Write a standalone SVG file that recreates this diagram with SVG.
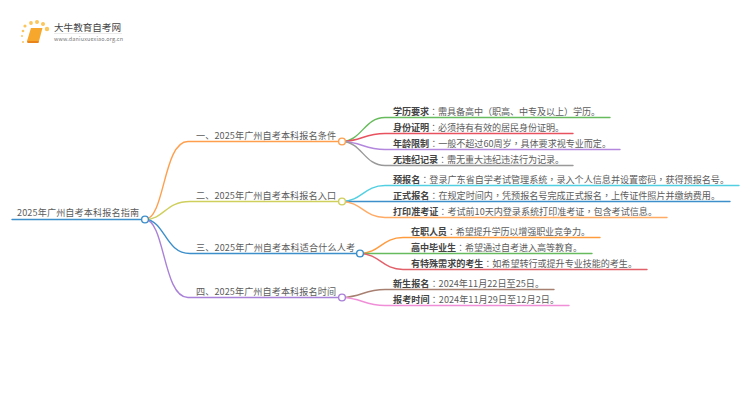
<svg xmlns="http://www.w3.org/2000/svg" width="750" height="410" viewBox="0 0 750 410">
<style>
text{font-family:"Noto Sans CJK SC","Liberation Sans",sans-serif;fill:#5c5c5c;font-size:9.1px}
.k{font-weight:700;fill:#444}
.p{font-family:"Noto Sans CJK TC","Liberation Sans",sans-serif}
.c{fill:none;stroke-width:1.4;stroke-linecap:round}
.d{fill:#fff;stroke-width:1.4}
</style>
<rect width="750" height="410" fill="#fff"/>
<g id="logo">
<g fill="#fbc65c"><circle cx="23" cy="31" r="1.3"/><circle cx="22" cy="36" r="1"/><circle cx="25" cy="26" r="1.6"/><circle cx="31" cy="23" r="1.9"/><circle cx="37" cy="22" r="2"/><circle cx="43" cy="24" r="2"/><circle cx="47" cy="29" r="2.2"/><circle cx="23" cy="42" r="1"/></g>
<path d="M31 28H42.5L39 41H27Z" fill="#f7a72b"/><path d="M27 41H39L38.5 43H27.5Z" fill="#e8841a"/>
<text x="54" y="31" style="font-size:9.6px;fill:#444" textLength="67">大牛教育自考网</text>
<line x1="54" y1="33.5" x2="122" y2="33.5" stroke="#ddd" stroke-width=".6"/>
<text x="54" y="41" style="font-size:5.4px;fill:#777" textLength="69">www.daniuxuexiao.org.cn</text>
</g>
<g id="connectors">
<path class="c" stroke="#3d8fcb" d="M12 219.5H145"/>
<path class="c" stroke="#ff9f4d" d="M145 219.5C165 219 163 141.5 188 141.5H342"/>
<path class="c" stroke="#cfcf5e" d="M145 219.5C165 219 165 201.5 190 201.5H342"/>
<path class="c" stroke="#3d8fcb" d="M145 219.5C165 220 165 253.5 190 253.5H360"/>
<path class="c" stroke="#a981d8" d="M145 219.5C165 220 163 297.5 188 297.5H342"/>
<path class="c" stroke="#68bb5c" d="M342 141.5C362 141 364 117.5 385 117.5H610"/>
<path class="c" stroke="#e8525f" d="M342 141.5C362 141 364 133.5 385 133.5H573"/>
<path class="c" stroke="#b387dd" d="M342 141.5C362 142 364 149.5 385 149.5H620"/>
<path class="c" stroke="#999" d="M342 141.5C362 142 364 165.5 385 165.5H573"/>
<path class="c" stroke="#52d0e2" d="M342 201.5C362 201 364 185.5 385 185.5H739"/>
<path class="c" stroke="#3d8fcb" d="M342 201.5H730"/>
<path class="c" stroke="#ffab66" d="M342 201.5C362 202 364 217.5 385 217.5H667"/>
<path class="c" stroke="#ff9a3d" d="M360 253.5C380 253 382 237.5 403 237.5H600"/>
<path class="c" stroke="#68bb5c" d="M360 253.5H592"/>
<path class="c" stroke="#e2606a" d="M360 253.5C380 254 382 269.5 403 269.5H647"/>
<path class="c" stroke="#a88072" d="M342 297.5C362 297 364 289.5 385 289.5H554"/>
<path class="c" stroke="#f08fd8" d="M342 297.5C362 298 364 305.5 385 305.5H569"/>
</g>
<g id="root"><text x="17" y="216" textLength="122">2025年广州自考本科报名指南</text><circle class="d" stroke="#3d8fcb" cx="145" cy="219.5" r="3.4"/></g>
<g id="b1"><text x="196" y="139" textLength="140">一、2025年广州自考本科报名条件</text><circle class="d" stroke="#ff9f4d" cx="342" cy="141.5" r="3.4"/></g>
<g id="b2"><text x="196" y="199" textLength="140">二、2025年广州自考本科报名入口</text><circle class="d" stroke="#cfcf5e" cx="342" cy="201.5" r="3.4"/></g>
<g id="b3"><text x="196" y="251" textLength="159">三、2025年广州自考本科适合什么人考</text><circle class="d" stroke="#3d8fcb" cx="360" cy="253.5" r="3.4"/></g>
<g id="b4"><text x="196" y="295" textLength="140">四、2025年广州自考本科报名时间</text><circle class="d" stroke="#a981d8" cx="342" cy="297.5" r="3.4"/></g>
<g id="l1"><text x="393" y="114.5" textLength="207"><tspan class="k">学历要求</tspan><tspan class="p">：</tspan>需具备高中<tspan class="p">（</tspan>职高、中专及以上<tspan class="p">）</tspan>学历。</text></g>
<g id="l2"><text x="393" y="130.5" textLength="171"><tspan class="k">身份证明</tspan><tspan class="p">：</tspan>必须持有有效的居民身份证明。</text></g>
<g id="l3"><text x="393" y="146.5" textLength="218"><tspan class="k">年龄限制</tspan><tspan class="p">：</tspan>一般不超过60周岁<tspan class="p">，</tspan>具体要求视专业而定。</text></g>
<g id="l4"><text x="393" y="162.5" textLength="171"><tspan class="k">无违纪记录</tspan><tspan class="p">：</tspan>需无重大违纪违法行为记录。</text></g>
<g id="l5"><text x="393" y="182.5" textLength="336"><tspan class="k">预报名</tspan><tspan class="p">：</tspan>登录广东省自学考试管理系统<tspan class="p">，</tspan>录入个人信息并设置密码<tspan class="p">，</tspan>获得预报名号。</text></g>
<g id="l6"><text x="393" y="198.5" textLength="327"><tspan class="k">正式报名</tspan><tspan class="p">：</tspan>在规定时间内<tspan class="p">，</tspan>凭预报名号完成正式报名<tspan class="p">，</tspan>上传证件照片并缴纳费用。</text></g>
<g id="l7"><text x="393" y="214.5" textLength="264"><tspan class="k">打印准考证</tspan><tspan class="p">：</tspan>考试前10天内登录系统打印准考证<tspan class="p">，</tspan>包含考试信息。</text></g>
<g id="l8"><text x="411" y="234.5" textLength="179"><tspan class="k">在职人员</tspan><tspan class="p">：</tspan>希望提升学历以增强职业竞争力。</text></g>
<g id="l9"><text x="411" y="250.5" textLength="171"><tspan class="k">高中毕业生</tspan><tspan class="p">：</tspan>希望通过自考进入高等教育。</text></g>
<g id="l10"><text x="411" y="266.5" textLength="226"><tspan class="k">有特殊需求的考生</tspan><tspan class="p">：</tspan>如希望转行或提升专业技能的考生。</text></g>
<g id="l11"><text x="393" y="286.5" textLength="151"><tspan class="k">新生报名</tspan><tspan class="p">：</tspan>2024年11月22日至25日。</text></g>
<g id="l12"><text x="393" y="302.5" textLength="166"><tspan class="k">报考时间</tspan><tspan class="p">：</tspan>2024年11月29日至12月2日。</text></g>
</svg>
